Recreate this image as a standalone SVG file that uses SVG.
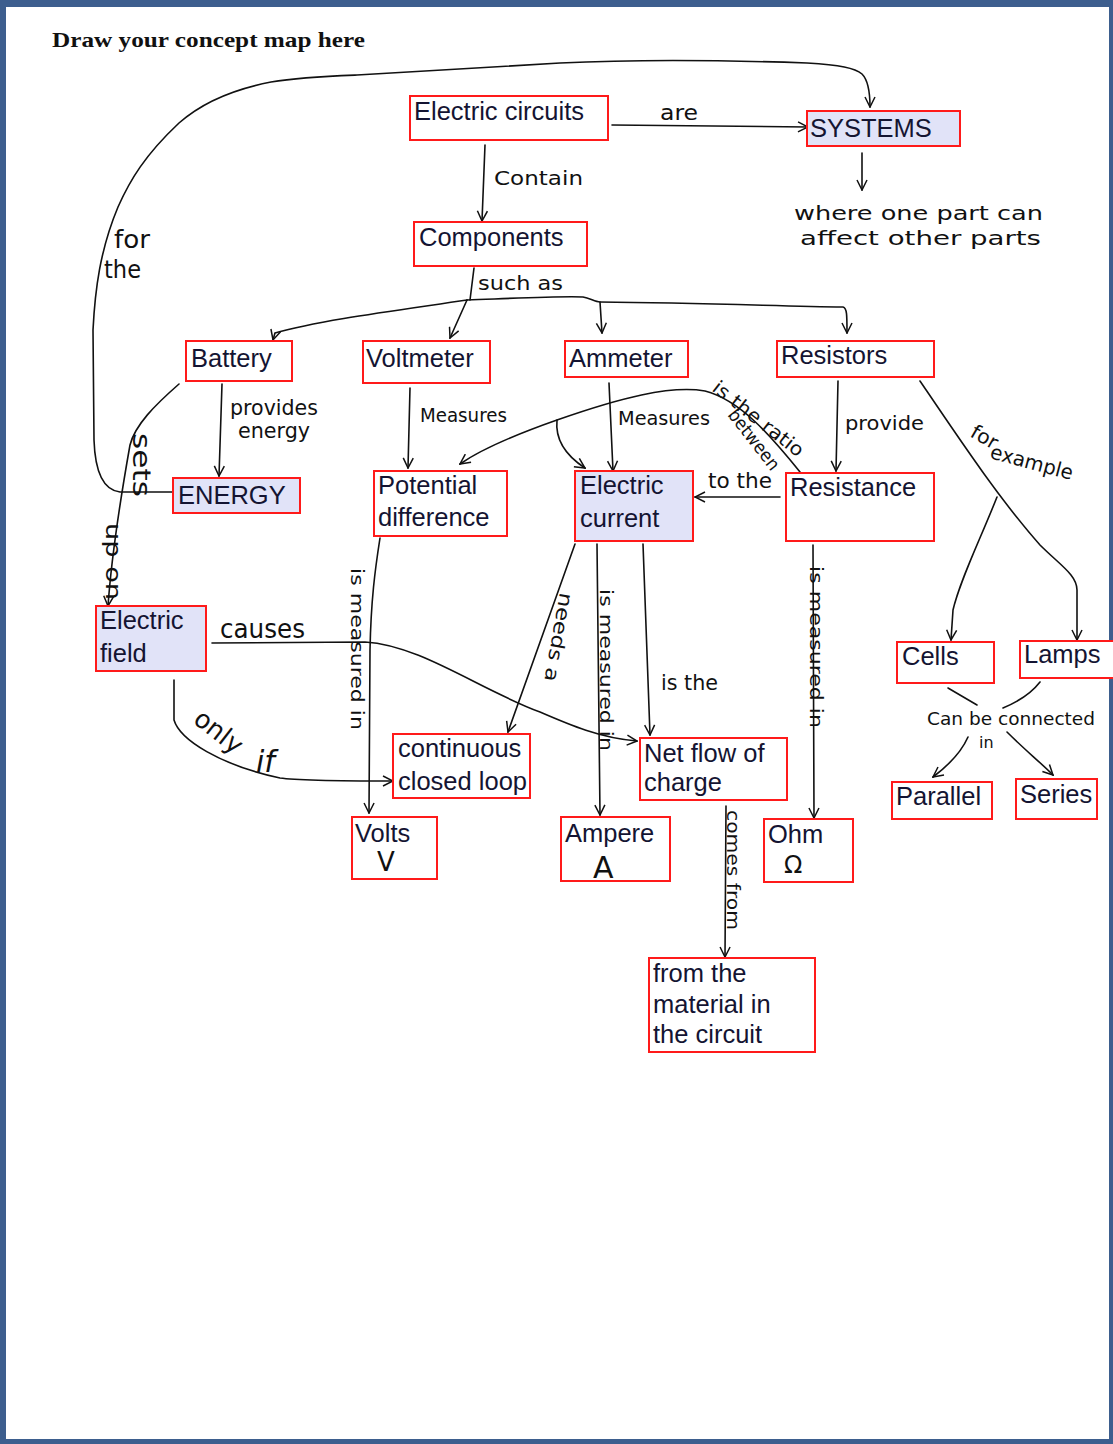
<svg xmlns="http://www.w3.org/2000/svg" width="1113" height="1444" viewBox="0 0 1113 1444">
<style>
.box{fill:#ffffff;stroke:#ff1a1a;stroke-width:2}
.hl{fill:#e1e3f8}
.t{font-family:"Liberation Sans",Arial,sans-serif;font-size:25.5px;fill:#141432}
.h{font-family:"DejaVu Sans","Liberation Sans",sans-serif;fill:#111}
.c{fill:none;stroke:#111;stroke-width:1.6;stroke-linecap:round}
.a{marker-end:url(#ar)}
</style>
<defs>
<marker id="ar" viewBox="0 0 12 12" refX="11" refY="6" markerWidth="12" markerHeight="12" markerUnits="userSpaceOnUse" orient="auto">
<path d="M1,1 L11,6 L1,11" fill="none" stroke="#111" stroke-width="1.5"/>
</marker>
</defs>
<rect x="0" y="0" width="1113" height="1444" fill="#3d5e8e"/>
<rect x="6" y="7" width="1103" height="1432" fill="#ffffff"/>
<text x="52" y="47" font-family="Liberation Serif,serif" font-weight="bold" font-size="22" fill="#111" textLength="313" lengthAdjust="spacingAndGlyphs">Draw your concept map here</text>

<g id="connectors">
<path class="c a" d="M612,125 L808,127"/>
<path class="c a" d="M172,492 L120,492 C102,490 95,470 94,440 L93,330 C95,290 100,250 118,207 C130,180 145,155 179,123 C205,100 240,88 271,82 C300,77 330,76 357,75 L560,63 C620,60 694,59 807,63 C840,65 855,68 862,74 C868,80 870,90 870,107"/>
<path class="c a" d="M222,384 L219,476"/>
<path class="c a" d="M179,384 C155,405 135,425 130,445 C122,490 112,550 108,606"/>
<path class="c a" d="M485,145 L482,221"/>
<path class="c" d="M474,268 L470,300"/>
<path class="c a" d="M467,300 C400,310 320,320 275,333 L273,340"/>
<path class="c a" d="M467,300 L450,338"/>
<path class="c a" d="M467,300 C520,298 560,296 583,297 C590,298 595,302 600,302 C700,303 780,306 843,307 C847,308 847,315 847,333"/>
<path class="c a" d="M600,302 L602,333"/>
<path class="c a" d="M862,153 L862,190"/>
<path class="c a" d="M410,388 L408,468"/>
<path class="c a" d="M609,383 L613,471"/>
<path class="c a" d="M800,472 C770,435 740,400 705,391 C670,385 620,398 557,420 C520,433 480,450 460,464"/>
<path class="c a" d="M557,420 C555,440 565,455 585,468"/>
<path class="c a" d="M838,381 L836,471"/>
<path class="c a" d="M780,497 L695,497"/>
<path class="c a" d="M920,381 C960,440 1000,500 1040,545 C1060,565 1077,575 1077,590 L1077,640"/>
<path class="c a" d="M997,497 C980,540 960,580 953,610 L951,640"/>
<path class="c" d="M948,688 L977,705"/>
<path class="c" d="M1040,682 C1030,695 1015,703 1003,708"/>
<path class="c a" d="M968,737 C960,755 945,768 933,777"/>
<path class="c a" d="M1007,732 C1025,750 1040,762 1053,775"/>
<path class="c a" d="M380,538 C375,570 371,600 370,650 L369,813"/>
<path class="c a" d="M212,643 L365,642 C420,645 480,690 540,712 C570,725 600,738 637,741"/>
<path class="c a" d="M174,680 L174,720 C180,740 220,765 280,778 C300,781 360,781 393,781"/>
<path class="c a" d="M575,544 L508,732"/>
<path class="c a" d="M597,544 L600,815"/>
<path class="c a" d="M643,544 L650,735"/>
<path class="c a" d="M813,545 L814,818"/>
<path class="c a" d="M726,806 L725,957"/>
</g>

<g id="labels">
<text class="h" x="660" y="120" style="font-size:22px" textLength="38" lengthAdjust="spacingAndGlyphs">are</text>
<text class="h" x="494" y="185" style="font-size:19px" textLength="89" lengthAdjust="spacingAndGlyphs">Contain</text>
<text class="h" x="794" y="220" style="font-size:20px" textLength="249" lengthAdjust="spacingAndGlyphs">where one part can</text>
<text class="h" x="800" y="245" style="font-size:20px" textLength="241" lengthAdjust="spacingAndGlyphs">affect other parts</text>
<text class="h" x="114" y="248" style="font-size:24px" textLength="36" lengthAdjust="spacingAndGlyphs">for</text>
<text class="h" x="104" y="278" style="font-size:24px" textLength="37" lengthAdjust="spacingAndGlyphs">the</text>
<text class="h" x="478" y="290" style="font-size:20px" textLength="85" lengthAdjust="spacingAndGlyphs">such as</text>
<text class="h" x="230" y="415" style="font-size:21px" textLength="88" lengthAdjust="spacingAndGlyphs">provides</text>
<text class="h" x="238" y="438" style="font-size:21px" textLength="72" lengthAdjust="spacingAndGlyphs">energy</text>
<text class="h" x="420" y="422" style="font-size:19px" textLength="87" lengthAdjust="spacingAndGlyphs">Measures</text>
<text class="h" x="618" y="425" style="font-size:19px" textLength="92" lengthAdjust="spacingAndGlyphs">Measures</text>
<text class="h" x="845" y="430" style="font-size:20px" textLength="79" lengthAdjust="spacingAndGlyphs">provide</text>
<text class="h" x="708" y="488" style="font-size:21px" textLength="64" lengthAdjust="spacingAndGlyphs">to the</text>
<text class="h" transform="translate(711,390) rotate(38)" style="font-size:19px" textLength="110" lengthAdjust="spacingAndGlyphs">is the ratio</text>
<text class="h" transform="translate(727,415) rotate(52)" style="font-size:18px" textLength="72" lengthAdjust="spacingAndGlyphs">between</text>
<text class="h" transform="translate(969,436) rotate(30)" style="font-size:20px" textLength="28" lengthAdjust="spacingAndGlyphs">for</text>
<text class="h" transform="translate(989,458) rotate(15)" style="font-size:20px" textLength="85" lengthAdjust="spacingAndGlyphs">example</text>
<text class="h" transform="translate(133,433) rotate(90)" style="font-size:24px" textLength="64" lengthAdjust="spacingAndGlyphs">sets</text>
<text class="h" transform="translate(106,523) rotate(90)" style="font-size:22px" textLength="77" lengthAdjust="spacingAndGlyphs">up on</text>
<text class="h" x="220" y="638" style="font-size:26px" textLength="85" lengthAdjust="spacingAndGlyphs">causes</text>
<text class="h" transform="translate(351,568) rotate(90)" style="font-size:18px" textLength="162" lengthAdjust="spacingAndGlyphs">is measured in</text>
<text class="h" transform="translate(560,592) rotate(100)" style="font-size:19px" textLength="90" lengthAdjust="spacingAndGlyphs">needs a</text>
<text class="h" transform="translate(600,589) rotate(90)" style="font-size:18px" textLength="162" lengthAdjust="spacingAndGlyphs">is measured in</text>
<text class="h" x="661" y="690" style="font-size:22px" textLength="57" lengthAdjust="spacingAndGlyphs">is the</text>
<text class="h" transform="translate(810,566) rotate(90)" style="font-size:18px" textLength="162" lengthAdjust="spacingAndGlyphs">is measured in</text>
<text class="h" transform="translate(727,810) rotate(90)" style="font-size:18px" textLength="120" lengthAdjust="spacingAndGlyphs">comes from</text>
<text class="h" transform="translate(192,722) rotate(38)" style="font-size:26px" textLength="54" lengthAdjust="spacingAndGlyphs">only</text>
<text class="h" x="256" y="772" style="font-size:30px;font-style:italic">if</text>
<text class="h" x="927" y="725" style="font-size:18px" textLength="168" lengthAdjust="spacingAndGlyphs">Can be connected</text>
<text class="h" x="979" y="748" style="font-size:16px">in</text>
</g>

<g id="n-electric-circuits"><rect class="box" x="410" y="96" width="198" height="44"/><text class="t" x="414" y="120">Electric circuits</text></g>
<g id="n-systems"><rect class="box hl" x="807" y="111" width="153" height="35"/><text class="t" x="810" y="137">SYSTEMS</text></g>
<g id="n-components"><rect class="box" x="414" y="222" width="173" height="44"/><text class="t" x="419" y="246">Components</text></g>
<g id="n-battery"><rect class="box" x="186" y="341" width="106" height="40"/><text class="t" x="191" y="367">Battery</text></g>
<g id="n-voltmeter"><rect class="box" x="363" y="341" width="127" height="42"/><text class="t" x="366" y="367">Voltmeter</text></g>
<g id="n-ammeter"><rect class="box" x="565" y="341" width="123" height="36"/><text class="t" x="569" y="367">Ammeter</text></g>
<g id="n-resistors"><rect class="box" x="777" y="341" width="157" height="36"/><text class="t" x="781" y="364">Resistors</text></g>
<g id="n-energy"><rect class="box hl" x="173" y="478" width="127" height="35"/><text class="t" x="178" y="504">ENERGY</text></g>
<g id="n-potential-difference"><rect class="box" x="374" y="471" width="133" height="65"/><text class="t" x="378" y="494">Potential</text><text class="t" x="378" y="526">difference</text></g>
<g id="n-electric-current"><rect class="box hl" x="575" y="471" width="118" height="70"/><text class="t" x="580" y="494">Electric</text><text class="t" x="580" y="527">current</text></g>
<g id="n-resistance"><rect class="box" x="786" y="473" width="148" height="68"/><text class="t" x="790" y="496">Resistance</text></g>
<g id="n-electric-field"><rect class="box hl" x="96" y="606" width="110" height="65"/><text class="t" x="100" y="629">Electric</text><text class="t" x="100" y="662">field</text></g>
<g id="n-cells"><rect class="box" x="897" y="642" width="97" height="41"/><text class="t" x="902" y="665">Cells</text></g>
<g id="n-lamps"><rect class="box" x="1020" y="641" width="95" height="37"/><text class="t" x="1024" y="663">Lamps</text></g>
<g id="n-continuous-closed-loop"><rect class="box" x="393" y="734" width="137" height="64"/><text class="t" x="398" y="757">continuous</text><text class="t" x="398" y="790">closed loop</text></g>
<g id="n-net-flow"><rect class="box" x="640" y="738" width="147" height="62"/><text class="t" x="644" y="762">Net flow of</text><text class="t" x="644" y="791">charge</text></g>
<g id="n-volts"><rect class="box" x="352" y="817" width="85" height="62"/><text class="t" x="355" y="842">Volts</text><text class="h" x="377" y="871" style="font-size:26px">V</text></g>
<g id="n-ampere"><rect class="box" x="561" y="817" width="109" height="64"/><text class="t" x="565" y="842">Ampere</text><text class="h" x="593" y="878" style="font-size:30px">A</text></g>
<g id="n-ohm"><rect class="box" x="764" y="819" width="89" height="63"/><text class="t" x="768" y="843">Ohm</text><text class="h" x="784" y="873" style="font-size:24px">Ω</text></g>
<g id="n-parallel"><rect class="box" x="892" y="782" width="100" height="37"/><text class="t" x="896" y="805">Parallel</text></g>
<g id="n-series"><rect class="box" x="1016" y="779" width="81" height="40"/><text class="t" x="1020" y="803">Series</text></g>
<g id="n-material"><rect class="box" x="649" y="958" width="166" height="94"/><text class="t" x="653" y="982">from the</text><text class="t" x="653" y="1013">material in</text><text class="t" x="653" y="1043">the circuit</text></g>
</svg>
